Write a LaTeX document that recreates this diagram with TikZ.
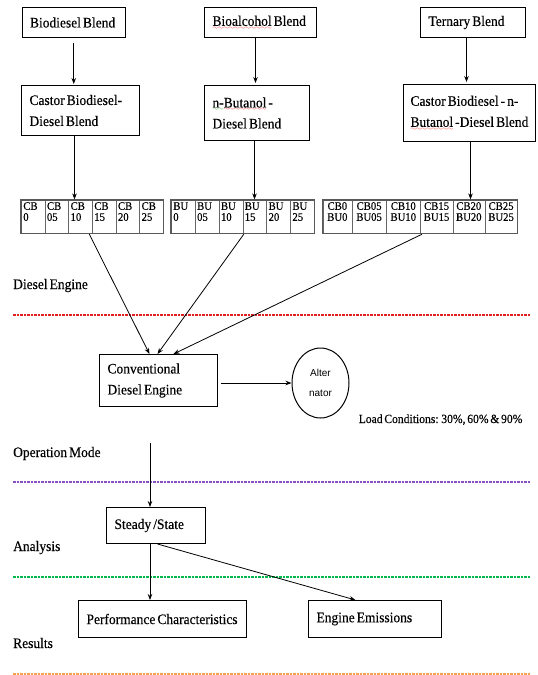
\documentclass[tikz,border=0pt]{standalone}
\usepackage{fontspec}
\setmainfont[FakeStretch=0.93, WordSpace=0.6, FakeBold=0.3]{Liberation Serif}
\newfontfamily\altfont{Liberation Sans}
\usetikzlibrary{arrows.meta,shapes.geometric,fit}
\definecolor{sepred}{HTML}{E02020}
\definecolor{seppurple}{HTML}{8A4FC0}
\definecolor{sepgreen}{HTML}{00B84C}
\definecolor{seporange}{HTML}{F7A050}
\font\wavefont=lasy6
\newsavebox\wavebox
\newcommand\wavy[2]{\leavevmode\sbox\wavebox{#2}\rlap{\lower3.5pt\hbox to\wd\wavebox{\color{#1}\xleaders\hbox{\wavefont\char58}\hfil}}\usebox\wavebox}
\newcommand\cellL[3]{\parbox[c][33pt][t]{#1}{\raggedright\leftskip=2pt\relax\rule{0pt}{9.5pt}#2\\#3}}
\newcommand\cellC[3]{\parbox[c][33pt][t]{#1}{\centering\rule{0pt}{9.5pt}#2\\#3}}
\tikzset{
  box/.style={draw, line width=1pt, align=flush left, inner xsep=8pt, inner ysep=0pt,
    font=\fontsize{14.5}{21}\selectfont, anchor=north west},
  arr/.style={-{Stealth[length=6pt,width=4.5pt]}, line width=0.8pt},
  lbl/.style={anchor=base west, inner sep=0pt, font=\fontsize{14.5}{17}\selectfont},
  cell/.style={draw=gray!80!black, line width=0.6pt, inner sep=0pt, anchor=north west,
    font=\fontsize{11.5}{11}\selectfont},
  tbl/.style={draw=gray!70!black, line width=1.2pt, inner sep=0pt},
  sepline/.style={line width=1.1pt, dash pattern=on 2.5pt off 1pt},
}
\begin{document}
\begin{tikzpicture}[x=1pt,y=-1pt]
\useasboundingbox (0,0) rectangle (538,675);

% top boxes
\node[box, text width=87.5pt, minimum height=30pt] (bio) at (21.5,7) {\mbox{Biodiesel Blend}};
\node[box, text width=96pt, minimum height=30pt] (alc) at (204,7) {\mbox{\wavy{red}{Bioalcohol} Blend}};
\node[box, text width=89pt, minimum height=30pt] (ter) at (420,7) {\mbox{Ternary Blend}};

% second row boxes
\node[box, text width=102pt, minimum height=50pt] (cas) at (21,85) {\mbox{Castor Biodiesel-}\\\mbox{Diesel Blend}};
\node[box, text width=89pt, minimum height=55pt] (nbu) at (204,85) {\mbox{\wavy{green!60!black}{n-}\wavy{red}{Butanol} -}\\\mbox{Diesel Blend}};
\node[box, inner xsep=7pt, text width=118pt, minimum height=57pt] (cbb) at (403,84) {\mbox{Castor Biodiesel - n-}\\\mbox{\wavy{red}{Butanol} -Diesel Blend}};

% CB table
\node[cell] (cba0) at (21,200)    {\cellL{23.67pt}{CB}{0}};
\node[cell] (cba1) at (44.67,200) {\cellL{23.67pt}{CB}{05}};
\node[cell] (cba2) at (68.33,200) {\cellL{23.67pt}{CB}{10}};
\node[cell] (cba3) at (92,200)    {\cellL{23.67pt}{CB}{15}};
\node[cell] (cba4) at (115.67,200){\cellL{23.67pt}{CB}{20}};
\node[cell] (cba5) at (139.33,200){\cellL{23.67pt}{CB}{25}};
\node[tbl, fit=(cba0)(cba5)] (tcb) {};

% BU table
\node[cell] (bua0) at (171,200)    {\cellL{23.83pt}{BU}{0}};
\node[cell] (bua1) at (194.83,200) {\cellL{23.83pt}{BU}{05}};
\node[cell] (bua2) at (218.67,200) {\cellL{23.83pt}{BU}{10}};
\node[cell] (bua3) at (242.5,200)  {\cellL{23.83pt}{BU}{15}};
\node[cell] (bua4) at (266.33,200) {\cellL{23.83pt}{BU}{20}};
\node[cell] (bua5) at (290.17,200) {\cellL{23.83pt}{BU}{25}};
\node[tbl, fit=(bua0)(bua5)] (tbu) {};

% CB-BU table
\node[cell] (cbu0) at (322.5,200) {\cellC{29.1pt}{CB0}{BU0}};
\node[cell] (cbu1) at (351.6,200) {\cellC{34.4pt}{CB05}{BU05}};
\node[cell] (cbu2) at (386,200)   {\cellC{34pt}{CB10}{BU10}};
\node[cell] (cbu3) at (420,200)   {\cellC{32.5pt}{CB15}{BU15}};
\node[cell] (cbu4) at (452.5,200) {\cellC{32pt}{CB20}{BU20}};
\node[cell] (cbu5) at (484.5,200) {\cellC{32.5pt}{CB25}{BU25}};
\node[tbl, fit=(cbu0)(cbu5)] (tcbbu) {};

% engine and alternator
\node[box, text width=102pt, minimum height=52pt] (eng) at (99,354) {\mbox{Conventional}\\\mbox{Diesel Engine}};
\node[ellipse, draw, line width=1pt, minimum width=57pt, minimum height=70pt, inner sep=0pt,
  align=center, font=\altfont\fontsize{10}{20.5}\selectfont] (alt) at (320.5,383) {Alter\\nator};

% lower boxes
\node[box, text width=83pt, minimum height=36pt] (ste) at (106,507) {\mbox{Steady /State}};
\node[box, text width=152pt, minimum height=37pt] (per) at (78,600) {\mbox{Performance Characteristics}};
\node[box, text width=117pt, minimum height=37pt] (emi) at (308,600) {\mbox{Engine Emissions}};

% labels
\node[lbl] (lde) at (13,289) {Diesel Engine};
\node[lbl] (lom) at (13,457) {Operation Mode};
\node[lbl] (lan) at (13,551) {Analysis};
\node[lbl] (lre) at (13,648) {Results};
\node[lbl, font=\fontsize{12.5}{15}\selectfont] (load) at (358.5,423) {Load Conditions: 30\%, 60\% \& 90\%};

% separator lines
\draw[sepline, draw=sepred]    (13,315) -- (530,315);
\draw[sepline, draw=seppurple] (13,482) -- (530,482);
\draw[sepline, draw=sepgreen]  (13,577) -- (530,577);
\draw[sepline, draw=seporange] (13,674) -- (530,674);

% arrows
\draw[arr, shorten <=5pt, shorten >=1pt] (bio.south) -- (bio.south |- cas.north);
\draw[arr, shorten >=2pt] ([xshift=-5pt]alc.south) -- ([xshift=-5pt]alc.south |- nbu.north);
\draw[arr, shorten >=2pt] ([xshift=-6.5pt]ter.south) -- ([xshift=-6.5pt]ter.south |- cbb.north);
\draw[arr] ([xshift=-6pt]cas.south) -- ([xshift=-6pt]cas.south |- tcb.north);
\draw[arr] ([xshift=-2.5pt]nbu.south) -- ([xshift=-2.5pt]nbu.south |- tbu.north);
\draw[arr] ([xshift=1pt]cbb.south) -- ([xshift=1pt]cbb.south |- tcbbu.north);
\draw[arr] ([xshift=-3pt]tcb.south) -- ([xshift=-9pt]eng.north);
\draw[arr] ([xshift=1pt]tbu.south) -- ([xshift=-1pt]eng.north);
\draw[arr] ([xshift=2pt]tcbbu.south) -- ([xshift=15pt]eng.north);
\draw[arr, shorten <=3pt] (eng.east |- alt.west) -- (alt.west);
\coordinate (om) at (150,443);
\draw[arr] (om) -- (om |- ste.north);
\draw[arr] (om |- ste.south) -- (om |- per.north);
\draw[arr] ([xshift=1.5pt]ste.south) -- ([xshift=-19.5pt]emi.north);
\end{tikzpicture}
\end{document}
